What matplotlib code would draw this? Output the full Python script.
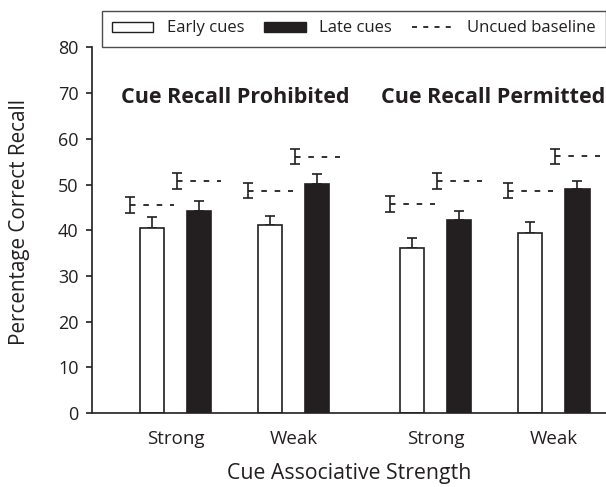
import matplotlib
matplotlib.use("Agg")
import matplotlib.pyplot as plt
from matplotlib.patches import Patch
from matplotlib.lines import Line2D
import numpy as np

plt.rcParams['font.family'] = ['Open Sans', 'DejaVu Sans']
plt.rcParams['lines.scale_dashes'] = False

# ---- data ----
panels = ["Cue Recall Prohibited", "Cue Recall Permitted"]
strength_labels = ["Strong", "Weak", "Strong", "Weak"]
early_means = [40.6, 41.2, 36.1, 39.5]
early_err = [2.4, 2.0, 2.2, 2.2]
late_means = [44.2, 50.1, 42.2, 49.0]
late_err = [2.2, 2.3, 2.1, 1.8]
base_early = [45.6, 48.7, 45.7, 48.7]
base_early_err = [1.75, 1.75, 1.8, 1.75]
base_late = [50.8, 56.1, 50.8, 56.2]
base_late_err = [1.8, 1.65, 1.8, 1.65]
yticks = [0, 10, 20, 30, 40, 50, 60, 70, 80]
legend_labels = ["Early cues", "Late cues", "Uncued baseline"]

BLACK = '#231f20'
group_x = np.array([0.0, 1.0, 2.2, 3.2])
off = 0.199
bw = 0.205
half_line = 0.19

fig = plt.figure(figsize=(6.06, 4.87), dpi=100)
ax = fig.add_axes([92.5/606, 1-413/487, 1-92.5/606, (413-47.5)/487])

xe = group_x - off
xl = group_x + off
ax.bar(xe, early_means, width=bw, color='white', edgecolor=BLACK, linewidth=1.2, zorder=2)
ax.bar(xl, late_means, width=bw, color=BLACK, edgecolor=BLACK, linewidth=1.2, zorder=2)
ax.errorbar(xe, early_means, yerr=[np.zeros(4), early_err], fmt='none', ecolor=BLACK,
            elinewidth=1.2, capsize=3.5, capthick=1.2, zorder=1)
ax.errorbar(xl, late_means, yerr=[np.zeros(4), late_err], fmt='none', ecolor=BLACK,
            elinewidth=1.2, capsize=3.5, capthick=1.2, zorder=1)

for centers, vals, errs in [(xe, base_early, base_early_err), (xl, base_late, base_late_err)]:
    for c, v, e in zip(centers, vals, errs):
        x0 = c - half_line
        x1 = c + half_line
        ax.plot([x0, x1], [v, v], color=BLACK, linewidth=1.3, dashes=(4.0, 5.6),
                solid_capstyle='butt', dash_capstyle='butt')
        ax.errorbar([x0], [v], yerr=[e], fmt='none', ecolor=BLACK, elinewidth=1.2,
                    capsize=3.5, capthick=1.2)

ax.set_xlim((92.5-175.5)/118.25, (606-175.5)/118.25)
ax.set_ylim(0, 80)
ax.set_yticks(yticks)
ax.set_yticklabels([str(t) for t in yticks], fontsize=13, color=BLACK)
ax.set_xticks(group_x)
ax.set_xticklabels(strength_labels, fontsize=13.5, color=BLACK)
ax.tick_params(axis='x', length=0, pad=12)
ax.tick_params(axis='y', length=4, width=1.2, color=BLACK, pad=6)
for s in ['top', 'right']:
    ax.spines[s].set_visible(False)
for s in ['left', 'bottom']:
    ax.spines[s].set_linewidth(1.2)
    ax.spines[s].set_color(BLACK)

ax.set_ylabel("Percentage Correct Recall", fontsize=14.9, color=BLACK)
ax.yaxis.set_label_coords(-0.122, 0.5226)
ax.set_xlabel("Cue Associative Strength", fontsize=15.3, color=BLACK, labelpad=11)

ax.text((235-175.5)/118.25, 69.0, panels[0], ha='center', va='center',
        fontsize=15.5, fontweight='bold', color=BLACK)
ax.text((493-175.5)/118.25, 69.0, panels[1], ha='center', va='center',
        fontsize=15.5, fontweight='bold', color=BLACK)

handles = [Patch(facecolor='white', edgecolor=BLACK, linewidth=1.0),
           Patch(facecolor=BLACK, edgecolor=BLACK),
           Line2D([0], [0], color=BLACK, linewidth=1.3, dashes=(3.6, 4.5))]
leg = fig.legend(handles, legend_labels, loc='center', ncol=3, mode='expand',
                 bbox_to_anchor=(101.7/606, 1-47.7/487, 1-101.7/606, (47.7-9.3)/487),
                 frameon=True, fancybox=False, edgecolor=BLACK, fontsize=12,
                 handlelength=2.5, handleheight=0.55, handletextpad=0.8,
                 borderpad=0.6, borderaxespad=0, columnspacing=1.0)
leg.get_frame().set_linewidth(1.0)
for t in leg.get_texts():
    t.set_color(BLACK)

fig.savefig("out.png", dpi=100)
